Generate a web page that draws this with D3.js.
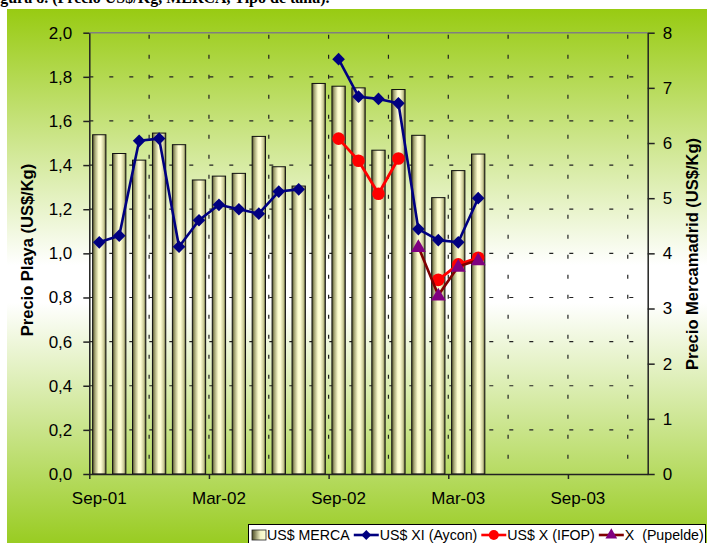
<!DOCTYPE html>
<html><head><meta charset="utf-8">
<script src="https://cdn.jsdelivr.net/npm/d3@7"></script>
<style>body{margin:0;background:#fff;} svg{display:block;font-family:"Liberation Sans",Arial,sans-serif;}</style>
</head><body><svg id="c" width="707" height="543"></svg>
<script>
// ---- data ----
const months = ["Sep-01","Oct-01","Nov-01","Dec-01","Jan-02","Feb-02","Mar-02","Apr-02","May-02","Jun-02","Jul-02","Aug-02","Sep-02","Oct-02","Nov-02","Dec-02","Jan-03","Feb-03","Mar-03","Apr-03"];
const merca   = [6.15,5.81,5.69,6.18,5.97,5.33,5.40,5.45,6.12,5.57,5.22,7.08,7.03,7.00,5.87,6.97,6.14,5.01,5.50,5.80];
const aycon   = [1.05,1.08,1.51,1.52,1.03,1.15,1.22,1.20,1.18,1.28,1.29,null,1.88,1.71,1.70,1.68,1.11,1.06,1.05,1.25];
const ifop    = [null,null,null,null,null,null,null,null,null,null,null,null,1.52,1.42,1.27,1.43,null,0.88,0.95,0.98];
const pupelde = [null,null,null,null,null,null,null,null,null,null,null,null,null,null,null,null,1.03,0.81,0.94,0.97];
const xTickSlots  = [0,6,12,18,24];
const xTickLabels = ["Sep-01","Mar-02","Sep-02","Mar-03","Sep-03"];
const axisSlotCount = 28; // Sep-01 .. Dec-03
const leftTicks  = [0,0.2,0.4,0.6,0.8,1.0,1.2,1.4,1.6,1.8,2.0];
const rightTicks = [0,1,2,3,4,5,6,7,8];
const legendLabels = ["US$ MERCA","US$ XI (Aycon)","US$ X (IFOP)","X\u00a0 (Pupelde)"];

// ---- layout ----
const L = 89.3, R = 647.7, T = 32.7, B = 474;
const svg = d3.select("#c");
const defs = svg.append("defs");

const bg = defs.append("linearGradient").attr("id","bg").attr("x1",0).attr("y1",0).attr("x2",0).attr("y2",1);
bg.append("stop").attr("offset","0%").attr("stop-color","#98cb12");
bg.append("stop").attr("offset","48%").attr("stop-color","#ffffff");
bg.append("stop").attr("offset","55%").attr("stop-color","#ffffff");
bg.append("stop").attr("offset","100%").attr("stop-color","#99cc22");

const barG = defs.append("linearGradient").attr("id","barg").attr("x1",0).attr("y1",0).attr("x2",1).attr("y2",0);
[["0%","#4d4d26"],["18%","#a8a878"],["45%","#fdfdd0"],["62%","#ffffd6"],["85%","#c9c996"],["100%","#5c5c30"]]
  .forEach(s=>barG.append("stop").attr("offset",s[0]).attr("stop-color",s[1]));
const legG = defs.append("linearGradient").attr("id","legg").attr("x1",0).attr("y1",0).attr("x2",1).attr("y2",0);
[["0%","#4d4d26"],["60%","#f3f3c6"],["100%","#ffffd6"]]
  .forEach(s=>legG.append("stop").attr("offset",s[0]).attr("stop-color",s[1]));

// page title (cut off at top, as in the source)
svg.append("text").attr("x",-14).attr("y",3)
  .attr("font-family","'Liberation Serif','Times New Roman',serif").attr("font-weight","bold").attr("font-size",16)
  .text("Figura 8.  (Precio US$/Kg, MERCA, Tipo de talla).");

svg.append("rect").attr("x",7).attr("y",9).attr("width",700).attr("height",534).attr("fill","url(#bg)");

// ---- scales ----
const x = d3.scaleBand().domain(d3.range(axisSlotCount)).range([L,R]).paddingInner(0.333).paddingOuter(0.1665);
const xEdge = d3.scaleLinear().domain([0,axisSlotCount]).range([L,R]);
const xc = i => x(i) + x.bandwidth()/2;
const yL = d3.scaleLinear().domain([0,2]).range([B,T]);
const yR = d3.scaleLinear().domain([0,8]).range([B,T]);

// ---- gridlines ----
const grid = svg.append("g").attr("stroke","#222").attr("stroke-width",1.2).attr("stroke-dasharray","4 16");
leftTicks.filter(v=>v>0 && v<2).forEach(v=>{
  grid.append("line").attr("x1",L).attr("x2",R).attr("y1",yL(v)).attr("y2",yL(v));
});
d3.range(3,axisSlotCount,3).forEach(s=>{
  grid.append("line").attr("x1",xEdge(s)).attr("x2",xEdge(s)).attr("y1",T).attr("y2",B).attr("stroke-dashoffset",-2);
});
svg.append("line").attr("x1",L).attr("x2",R).attr("y1",T).attr("y2",T).attr("stroke","#808080").attr("stroke-width",1.5);

// ---- bars ----
svg.append("g").selectAll("rect").data(merca).join("rect")
  .attr("x",(d,i)=>x(i)).attr("y",d=>yR(d)).attr("width",x.bandwidth()).attr("height",d=>B-yR(d))
  .attr("fill","url(#barg)").attr("stroke","#111").attr("stroke-width",1);

// ---- axes ----
const fmt = d=>d3.format(".1f")(d).replace(".",",");
const ax = svg.append("g").attr("transform",`translate(${L},0)`)
  .call(d3.axisLeft(yL).tickValues(leftTicks).tickFormat(fmt).tickSize(6).tickSizeOuter(0).tickPadding(11));
const ax2 = svg.append("g").attr("transform",`translate(${R},0)`)
  .call(d3.axisRight(yR).tickValues(rightTicks).tickFormat(d3.format("d")).tickSize(7).tickSizeOuter(0).tickPadding(8));
const ax3 = svg.append("g").attr("transform",`translate(0,${B})`)
  .call(d3.axisBottom(xEdge).tickValues(xTickSlots).tickFormat("").tickSize(5).tickSizeOuter(0));
[ax,ax2,ax3].forEach(a=>{
  a.selectAll("path,line").attr("stroke","#222").attr("stroke-width",1.5);
  a.selectAll("text").attr("font-size",17).attr("fill","#000").attr("font-family","'Liberation Sans',Arial,sans-serif");
});
svg.append("g").selectAll("text").data(xTickSlots).join("text")
  .attr("x",d=>xc(d)).attr("y",504).attr("text-anchor","middle").attr("font-size",17)
  .text((d,i)=>xTickLabels[i]);

svg.append("text").attr("transform","translate(33,250) rotate(-90)").attr("text-anchor","middle")
  .attr("font-weight","bold").attr("font-size",16.5).text("Precio Playa (US$/Kg)");
svg.append("text").attr("transform","translate(698,254) rotate(-90)").attr("text-anchor","middle")
  .attr("font-weight","bold").attr("font-size",16.5).text("Precio Mercamadrid (US$/Kg)");

// ---- lines ----
function series(vals, lineColor, width){
  const line = d3.line().defined(d=>d!=null).x((d,i)=>xc(i)).y(d=>yL(d));
  svg.append("path").attr("d",line(vals)).attr("fill","none").attr("stroke",lineColor).attr("stroke-width",width).attr("stroke-linejoin","round");
  return vals.map((d,i)=>({d,i})).filter(o=>o.d!=null);
}
series(aycon,"#000080",2.6).forEach(o=>{
  svg.append("path").attr("d",d3.symbol(d3.symbolSquare,80)())
    .attr("transform",`translate(${xc(o.i)},${yL(o.d)}) rotate(45)`).attr("fill","#000080");
});
series(ifop,"#ff0000",2.8).forEach(o=>{
  svg.append("circle").attr("cx",xc(o.i)).attr("cy",yL(o.d)).attr("r",6.3).attr("fill","#ff0000");
});
series(pupelde,"#800000",2.6).forEach(o=>{
  svg.append("path").attr("d",d3.symbol(d3.symbolTriangle,95)())
    .attr("transform",`translate(${xc(o.i)},${yL(o.d)+1})`).attr("fill","#800080");
});

// ---- legend ----
const lg = svg.append("g");
lg.append("rect").attr("x",248.5).attr("y",524.5).attr("width",457).attr("height",30).attr("fill","#fff").attr("stroke","#000").attr("stroke-width",1);
let cx = 252;
const ly = 539;
legendLabels.forEach((lab,k)=>{
  if(k===0){
    lg.append("rect").attr("x",cx).attr("y",ly-9).attr("width",14).attr("height",10).attr("fill","url(#legg)").attr("stroke","#222").attr("stroke-width",0.8);
    cx += 15;
  } else {
    const col = ["#000080","#ff0000","#800000"][k-1];
    lg.append("line").attr("x1",cx).attr("x2",cx+25).attr("y1",ly-4).attr("y2",ly-4).attr("stroke",col).attr("stroke-width",2.6);
    const mx = cx+12.5, my = ly-4;
    if(k===1) lg.append("path").attr("d",d3.symbol(d3.symbolSquare,50)()).attr("transform",`translate(${mx},${my}) rotate(45)`).attr("fill","#000080");
    if(k===2) lg.append("circle").attr("cx",mx).attr("cy",my).attr("r",5).attr("fill","#ff0000");
    if(k===3) lg.append("path").attr("d",d3.symbol(d3.symbolTriangle,60)()).attr("transform",`translate(${mx},${my})`).attr("fill","#800080");
    cx += 26;
  }
  const t = lg.append("text").attr("x",cx).attr("y",ly+1).attr("font-size",14.2).text(lab);
  cx += t.node().getComputedTextLength() + 4;
});
</script></body></html>
